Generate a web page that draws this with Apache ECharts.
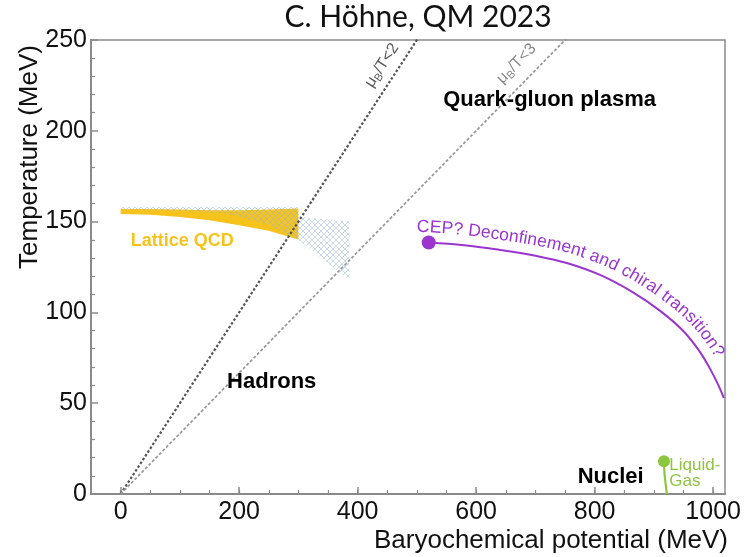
<!DOCTYPE html>
<html><head><meta charset="utf-8">
<script src="https://cdn.jsdelivr.net/npm/echarts@6/dist/echarts.min.js"></script>
<style>html,body{margin:0;padding:0;background:#fff}#c{width:744px;height:557px}</style>
</head><body><div id="c"></div>
<script>
// ---- data ----
const xTickLabels = [0, 200, 400, 600, 800, 1000];
const xMinorTicks = [0, 50, 100, 150, 200, 250, 300, 350, 400, 450, 500, 550, 600, 650, 700, 750, 800, 850, 900, 950, 1000];
const yTickLabels = [0, 50, 100, 150, 200, 250];
const ratio2Line = [[0, 0], [520, 260]];
const ratio3Line = [[0, 0], [780, 260]];
const latticeUpper = [[0, 157], [50, 157], [100, 156.6], [150, 156.3], [200, 156.3], [250, 156.6], [300, 157.2]];
const latticeLower = [[300, 140.2], [250, 145], [200, 148], [150, 150.8], [100, 152.6], [50, 153.8], [0, 154.2]];
const hatchUpper = [[0, 158], [300, 158], [300, 152.7], [386, 150]];
const hatchLower = [[386, 118], [300, 140], [250, 148], [180, 154.5], [100, 156], [0, 156.5]];
const cepPoint = [520, 138.5];
const transitionCurve = [[520, 138.5], [580, 137], [640, 134.4], [700, 131.2], [753, 127.2], [810, 120.5], [864, 111.2], [910, 101], [948, 90.3], [975, 79.5], [993, 70], [1008, 60.5], [1018, 52.9]];
const liquidGasPoint = [917, 18];
const liquidGasLine = [[917, 18], [918, 11], [920, 5], [922, 0]];
const annotations = [
  {name: 'Quark-gluon plasma', value: [724, 217], kind: 'region'},
  {name: 'Hadrons', value: [255, 61.7], kind: 'region'},
  {name: 'Nuclei', value: [827, 9.4], kind: 'region'},
  {name: 'Lattice QCD', value: [104, 139.3], kind: 'lattice'},
  {name: 'Liquid-\nGas', value: [926, 11.5], kind: 'lg'}
];
const ratioLabels = [
  {text: '2', value: [441, 236], rotate: 56.8, color: '#5a5a5a'},
  {text: '3', value: [668, 237], rotate: 45.5, color: '#8a8a8a'}
];
const curveText = 'CEP? Deconfinement and chiral transition?';

// ---- style ----
const YELLOW = '#f6c31c', PURPLE = '#9a35d0', GREEN = '#8cc63f', AXIS = '#8a8a8a';
const FONT = '"Liberation Sans", Arial, sans-serif';

function hatchPattern() {
  const c = document.createElement('canvas'); c.width = c.height = 6;
  const g = c.getContext('2d');
  g.strokeStyle = 'rgba(150,185,215,0.75)'; g.lineWidth = 0.7;
  g.beginPath(); g.moveTo(0, 0); g.lineTo(6, 6); g.moveTo(6, 0); g.lineTo(0, 6); g.stroke();
  return c;
}
const hatchFill = {image: hatchPattern(), repeat: 'repeat'};

function polygonSeries(poly, fill, z) {
  return {
    type: 'custom', coordinateSystem: 'cartesian2d', xAxisIndex: 0, yAxisIndex: 0,
    data: [[0, 0]], silent: true, z: z,
    renderItem: (p, api) => ({type: 'polygon', shape: {points: poly.map(pt => api.coord(pt))}, style: {fill: fill}})
  };
}

const chart = echarts.init(document.getElementById('c'), null, {renderer: 'canvas'});
const option = {
  animation: false,
  grid: {left: 91, top: 40, right: 19, bottom: 63, show: true, borderColor: AXIS, borderWidth: 1.5, backgroundColor: 'transparent'},
  xAxis: [{
    type: 'value', min: -50, max: 1020,
    axisLine: {onZero: false, lineStyle: {color: AXIS, width: 2}},
    axisTick: {inside: true, length: 7, customValues: xTickLabels, lineStyle: {color: AXIS, width: 1.5}},
    axisLabel: {customValues: xTickLabels, formatter: v => String(v), color: '#111', fontSize: 25, fontFamily: FONT, margin: 6},
    splitLine: {show: false}
  }, {
    type: 'value', min: -50, max: 1020, position: 'bottom',
    axisLine: {show: false, onZero: false},
    axisTick: {inside: true, length: 4, customValues: xMinorTicks, lineStyle: {color: AXIS, width: 1.2}},
    axisLabel: {show: false}, splitLine: {show: false}
  }],
  yAxis: {
    type: 'value', min: 0, max: 250, interval: 50,
    axisLine: {show: true, onZero: false, lineStyle: {color: AXIS, width: 2}},
    axisTick: {show: true, inside: true, length: 7, lineStyle: {color: AXIS, width: 1.5}},
    minorTick: {show: true, splitNumber: 5, length: 4, lineStyle: {color: AXIS, width: 1.2}},
    axisLabel: {color: '#111', fontSize: 25, fontFamily: FONT, margin: 4},
    splitLine: {show: false}
  },
  series: [
    polygonSeries(latticeUpper.concat(latticeLower), YELLOW, 1),
    polygonSeries(hatchUpper.concat(hatchLower), hatchFill, 2),
    {type: 'line', data: ratio2Line, symbol: 'none', z: 3, lineStyle: {color: '#555', width: 2.2, type: [2.5, 2]}},
    {type: 'line', data: ratio3Line, symbol: 'none', z: 3, lineStyle: {color: '#9a9a9a', width: 1.8, type: [3, 2]}},
    {type: 'line', data: transitionCurve, smooth: 0.4, symbol: 'none', z: 4, lineStyle: {color: PURPLE, width: 2}},
    {type: 'scatter', data: [cepPoint], symbolSize: 14, z: 5, itemStyle: {color: PURPLE, opacity: 1}},
    {type: 'line', data: liquidGasLine, smooth: true, symbol: 'none', z: 4, lineStyle: {color: GREEN, width: 2.2}},
    {type: 'scatter', data: [liquidGasPoint], symbolSize: 12, z: 5, itemStyle: {color: GREEN, opacity: 1}},
    {
      type: 'scatter', symbolSize: 1, z: 6, itemStyle: {color: 'rgba(0,0,0,0)', opacity: 1}, silent: true,
      data: annotations.map(a => ({
        value: a.value,
        label: a.kind === 'region' ? {fontSize: 22, fontWeight: 'bold', color: '#000000'} :
               a.kind === 'lattice' ? {fontSize: 18, fontWeight: 'bold', color: YELLOW} :
               {fontSize: 17, color: GREEN, align: 'left', lineHeight: 16},
        name: a.name
      })),
      label: {show: true, position: 'inside', color: '#000000', fontFamily: FONT, textBorderWidth: 0, formatter: p => p.name}
    },
    {
      type: 'scatter', symbolSize: 1, z: 6, itemStyle: {color: 'rgba(0,0,0,0)', opacity: 1}, silent: true,
      data: ratioLabels.map(r => ({
        value: r.value, name: r.text,
        label: {rotate: r.rotate, color: r.color,
          rich: {m: {fontSize: 16, color: r.color, fontFamily: FONT}, s: {fontSize: 11, color: r.color, fontFamily: FONT, verticalAlign: 'bottom', padding: [9, 0, 0, 0]}}}
      })),
      label: {show: true, position: 'inside', textBorderWidth: 0, formatter: p => '{m|μ}{s|B}{m|/T<' + p.name + '}'}
    }
  ]
};
chart.setOption(option);

// ---- texts drawn as graphic elements ----
function curvedTextElements() {
  const font = '17.5px ' + FONT;
  const px = transitionCurve.map(p => chart.convertToPixel({gridIndex: 0}, p));
  const pts = [[px[0][0] - 12, px[0][1]]].concat(px);
  const dense = [];
  for (let i = 0; i < pts.length - 1; i++) {
    const p0 = pts[Math.max(i - 1, 0)], p1 = pts[i], p2 = pts[i + 1], p3 = pts[Math.min(i + 2, pts.length - 1)];
    for (let k = 0; k < 20; k++) {
      const t = k / 20, t2 = t * t, t3 = t2 * t;
      const f = j => 0.5 * (2 * p1[j] + (-p0[j] + p2[j]) * t + (2 * p0[j] - 5 * p1[j] + 4 * p2[j] - p3[j]) * t2 + (-p0[j] + 3 * p1[j] - 3 * p2[j] + p3[j]) * t3);
      dense.push([f(0), f(1)]);
    }
  }
  dense.push(pts[pts.length - 1]);
  const d = 6;
  const off = dense.map((p, i) => {
    const a = dense[Math.max(i - 1, 0)], b = dense[Math.min(i + 1, dense.length - 1)];
    let tx = b[0] - a[0], ty = b[1] - a[1]; const L = Math.hypot(tx, ty) || 1; tx /= L; ty /= L;
    return [p[0] + ty * d, p[1] - tx * d];
  });
  const cum = [0];
  for (let i = 1; i < off.length; i++) cum.push(cum[i - 1] + Math.hypot(off[i][0] - off[i - 1][0], off[i][1] - off[i - 1][1]));
  function at(s) {
    let i = 1; while (i < cum.length - 1 && cum[i] < s) i++;
    const a = off[i - 1], b = off[i]; const seg = cum[i] - cum[i - 1] || 1; const u = (s - cum[i - 1]) / seg;
    return {x: a[0] + (b[0] - a[0]) * u, y: a[1] + (b[1] - a[1]) * u, ang: Math.atan2(b[1] - a[1], b[0] - a[0])};
  }
  const ctx = document.createElement('canvas').getContext('2d'); ctx.font = font;
  const els = []; let s = 0;
  for (const ch of curveText) {
    const w = ctx.measureText(ch).width;
    const q = at(s + w / 2);
    els.push({type: 'text', x: q.x, y: q.y, rotation: -q.ang, silent: true,
      style: {text: ch, font: font, fill: PURPLE, textAlign: 'center', align: 'center', textVerticalAlign: 'bottom', verticalAlign: 'bottom'}});
    s += w;
  }
  return els;
}

const graphics = [
  {type: 'text', x: 418, y: 17, silent: true,
   style: {text: 'C. Höhne, QM 2023', font: '30px Lato, "Open Sans", sans-serif', fill: '#111', textAlign: 'center', align: 'center', textVerticalAlign: 'middle', verticalAlign: 'middle'}},
  {type: 'text', x: 30, y: 157, rotation: Math.PI / 2, silent: true,
   style: {text: 'Temperature (MeV)', font: '26px ' + FONT, fill: '#111', textAlign: 'center', align: 'center', textVerticalAlign: 'middle', verticalAlign: 'middle'}},
  {type: 'text', x: 728, y: 541, silent: true,
   style: {text: 'Baryochemical potential (MeV)', font: '26px ' + FONT, fill: '#111', textAlign: 'right', align: 'right', textVerticalAlign: 'middle', verticalAlign: 'middle'}}
].concat(curvedTextElements());
chart.setOption({graphic: graphics});
</script></body></html>
